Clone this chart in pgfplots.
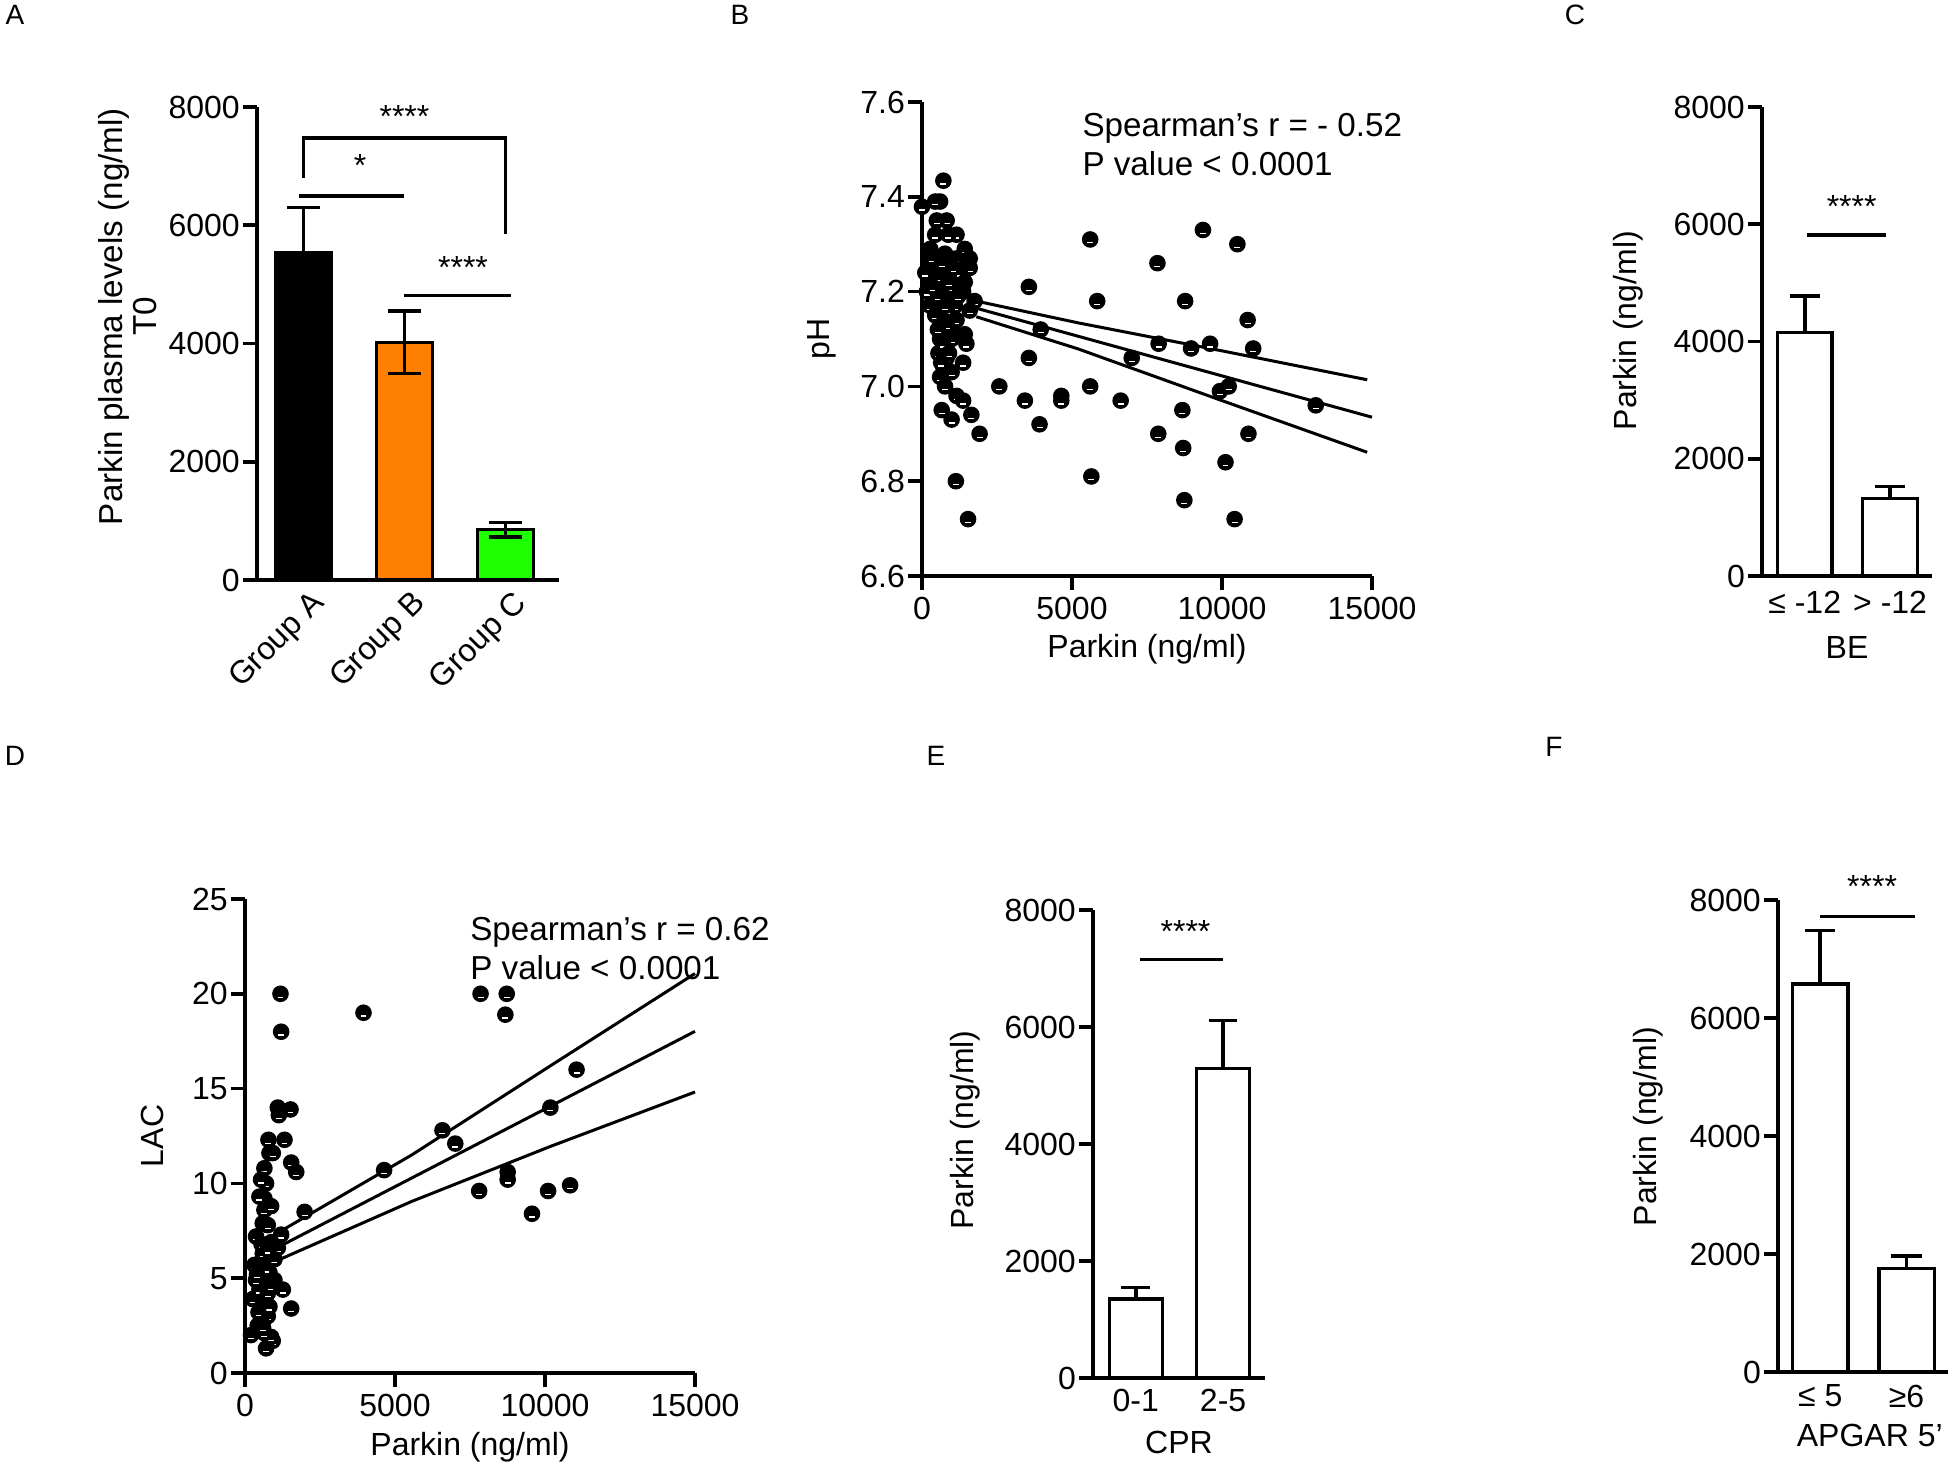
\documentclass[border=0pt]{standalone}
\usepackage{fontspec}
\setmainfont{Liberation Sans}
\usepackage{pgfplots}
\usepackage{pgfplotstable}
\pgfplotsset{compat=1.18}

\definecolor{barorange}{RGB}{255,127,0}
\definecolor{bargreen}{RGB}{30,255,0}

% GraphPad-like dot: black disc with a small white highlight
\pgfdeclareplotmark{gpdot}{%
  \pgfsetlinewidth{0.45pt}%
  \pgfsetfillcolor{black}\pgfsetstrokecolor{black}%
  \pgfpathcircle{\pgfpointorigin}{\pgfplotmarksize}%
  \pgfusepathqfillstroke
  \pgfsetstrokecolor{white}%
  \pgfsetlinewidth{0.3pt}%
  \pgfpathmoveto{\pgfpoint{-0.4\pgfplotmarksize}{-0.45\pgfplotmarksize}}%
  \pgfpathlineto{\pgfpoint{0.4\pgfplotmarksize}{-0.45\pgfplotmarksize}}%
  \pgfusepathqstroke
}

\pgfplotsset{
  gp/.style={
    scale only axis, anchor=south west, clip=false,
    axis lines=left,
    axis line style={-, line width=0.9pt},
    tick style={line width=0.9pt, black},
    tick align=outside,
    major tick length=3.5pt,
    ticklabel style={font=\fontsize{8}{9.6}\selectfont},
    yticklabel style={inner sep=0.6pt},
    xticklabel style={inner sep=1.5pt},
    label style={font=\fontsize{8}{9.6}\selectfont},
    scaled x ticks=false, scaled y ticks=false,
    /pgf/number format/assume math mode=true,
    /pgf/number format/1000 sep={},
  },
  gpbar/.style={
    gp, ymin=0, ymax=8000, ytick={0,2000,...,8000},
    xtick={0,1,2}, xtick style={draw=none},
  },
  sig/.style={black, line width=0.9pt, no marks},
  reg/.style={black, line width=0.75pt, no marks},
}

\pgfplotstableread{
x y
713 7.434
0 7.379
603 7.39
439 7.39
822 7.35
1151 7.32
493 7.35
439 7.32
1425 7.29
1590 7.27
1590 7.25
274 7.29
219 7.26
768 7.28
1151 7.27
1261 7.24
822 7.24
384 7.24
219 7.22
603 7.21
987 7.21
1425 7.22
1371 7.20
1754 7.18
1590 7.16
384 7.19
713 7.19
1096 7.17
274 7.17
439 7.15
1151 7.14
658 7.13
603 7.10
1425 7.11
1480 7.09
1096 7.11
548 7.07
822 7.06
1371 7.05
713 7.04
987 7.03
603 7.02
768 7.00
1151 6.98
1371 6.97
658 6.95
987 6.93
1645 6.94
1919 6.90
2577 7.00
1129 6.80
1535 6.72
987 7.10
822 7.13
164 7.20
110 7.24
932 7.26
822 7.16
548 7.19
877 7.32
330 7.27
500 7.23
660 7.26
900 7.22
1050 7.25
350 7.21
780 7.17
1200 7.19
530 7.12
700 7.09
900 7.07
640 7.05
3562 7.21
5606 7.31
5840 7.18
7848 7.26
9365 7.33
10513 7.30
8772 7.18
10855 7.14
3957 7.12
7888 7.09
8970 7.08
9603 7.09
11040 7.08
3562 7.06
6991 7.06
5606 7.00
3430 6.97
4643 6.98
4643 6.97
6622 6.97
9932 6.99
10223 7.00
13125 6.96
3918 6.92
7875 6.90
8679 6.95
10882 6.90
8706 6.87
10117 6.84
5645 6.81
8745 6.76
10420 6.72
}\phdata

\pgfplotstableread{
x y
1183 20.0
1205 18.0
3950 19.0
1094 14.0
1127 13.6
1518 13.9
781 12.3
1317 12.3
815 11.6
1540 11.1
1708 10.6
647 10.8
703 10.0
647 9.2
647 8.6
1987 8.5
592 7.9
368 7.2
1205 7.3
1094 6.6
871 6.9
647 6.0
313 5.7
815 5.3
647 4.8
1261 4.4
1540 3.4
257 3.9
592 3.8
759 3.0
424 2.5
201 2.0
926 1.7
703 1.3
871 1.9
536 3.4
480 4.4
759 4.2
592 6.3
759 7.8
871 8.8
647 2.1
536 2.8
368 4.9
982 6.0
480 9.3
536 10.2
926 11.6
982 4.9
815 3.5
700 5.5
550 6.8
450 3.2
600 2.4
750 6.5
400 5.2
850 4.6
7852 20.0
8725 20.0
8679 18.9
11052 16.0
6582 12.8
7010 12.1
4638 10.7
10179 14.0
8756 10.6
8756 10.2
7806 9.6
10103 9.6
10837 9.9
9567 8.4
}\lacdata

\begin{document}
\begin{tikzpicture}
\path[use as bounding box] (0,0) rectangle (488pt,-366.5pt);

% panel letters
\begin{scope}[every node/.style={font=\fontsize{7}{8}\selectfont}]
\node at (3.75pt,-3.75pt) {A};
\node at (185pt,-3.75pt) {B};
\node at (393.75pt,-3.75pt) {C};
\node at (3.75pt,-189pt) {D};
\node at (234pt,-189pt) {E};
\node at (388.5pt,-186.75pt) {F};
\end{scope}

% ---------- A ----------
\begin{axis}[gpbar, at={(64.25pt,-145pt)}, width=75.5pt, height=118.25pt,
  xmin=-0.46, xmax=2.53,
  xticklabels={Group A, Group B, Group C},
  xticklabel style={rotate=45, anchor=east, xshift=3.7pt, yshift=-3.8pt},
  ylabel={Parkin plasma levels (ng/ml)\\T0},
  ylabel style={align=center, font=\fontsize{8.3}{7.3}\selectfont,
    at={(axis description cs:0,0.557)}, anchor=center, yshift=32.4pt},
]
\addplot[ybar, bar width=0.555, fill=black, draw=black, line width=0.8pt,
  error bars/.cd, y dir=both, y explicit,
  error bar style={line width=0.9pt, black},
  error mark options={rotate=90, mark size=4.1pt, line width=0.9pt, black}]
  coordinates {(0,5540) +- (0,760)};
\addplot[ybar, bar width=0.555, fill=barorange, draw=black, line width=0.8pt,
  error bars/.cd, y dir=both, y explicit,
  error bar style={line width=0.9pt, black},
  error mark options={rotate=90, mark size=4.1pt, line width=0.9pt, black}]
  coordinates {(1,4020) +- (0,530)};
\addplot[ybar, bar width=0.555, fill=bargreen, draw=black, line width=0.8pt,
  error bars/.cd, y dir=both, y explicit,
  error bar style={line width=0.9pt, black},
  error mark options={rotate=90, mark size=4.1pt, line width=0.9pt, black}]
  coordinates {(2,850) +- (0,125)};
\addplot[sig] coordinates {(0,6792) (0,7472) (2,7472) (2,5849)};
\addplot[sig] coordinates {(-0.045,6491) (1,6491)};
\addplot[sig] coordinates {(1,4815) (2.05,4815)};
\node[font=\fontsize{8}{9.6}\selectfont] at (axis cs:1,7834) {****};
\node[font=\fontsize{8}{9.6}\selectfont] at (axis cs:0.56,7019) {*};
\node[font=\fontsize{8}{9.6}\selectfont] at (axis cs:1.58,5283) {****};
\end{axis}

% ---------- B ----------
\begin{axis}[gp, at={(230.5pt,-144pt)}, width=112.5pt, height=118.5pt,
  xmin=0, xmax=15000, ymin=6.6, ymax=7.6,
  xtick={0,5000,10000,15000},
  ytick={6.6,6.8,7.0,7.2,7.4,7.6},
  yticklabel style={/pgf/number format/.cd, fixed, precision=1, fixed zerofill},
  xlabel={Parkin (ng/ml)},
  xlabel style={at={(axis description cs:0.5,0)}, anchor=center, yshift=-18.25pt},
  ylabel={pH},
  ylabel style={at={(axis description cs:0,0.5)}, anchor=center, yshift=25pt},
]
\addplot[only marks, mark=gpdot, mark size=1.85pt] table {\phdata};
\addplot[reg] coordinates {(1809,7.165) (15000,6.935)};
\addplot[reg] coordinates {(1809,7.18) (5208,7.134) (10000,7.075) (14840,7.014)};
\addplot[reg] coordinates {(1809,7.147) (5208,7.079) (10000,6.97) (14840,6.861)};
\node[anchor=west, align=left, font=\fontsize{8.3}{9.8}\selectfont] at (axis cs:4880,7.51)
  {Spearman’s r = - 0.52\\P value < 0.0001};
\end{axis}

% ---------- C ----------
\begin{axis}[gpbar, at={(440.5pt,-144pt)}, width=42.5pt, height=117.25pt,
  xmin=-0.5, xmax=1.49, xtick={0,1},
  xticklabels={≤ -12, > -12},
  xticklabel style={yshift=1.5pt},
  xlabel={BE},
  xlabel style={at={(axis description cs:0.5,0)}, anchor=center, yshift=-17.75pt},
  ylabel={Parkin (ng/ml)},
  ylabel style={at={(axis description cs:0,0.523)}, anchor=center, yshift=33.5pt},
]
\addplot[ybar, bar width=0.64, fill=white, draw=black, line width=0.8pt,
  error bars/.cd, y dir=plus, y explicit,
  error bar style={line width=0.9pt, black},
  error mark options={rotate=90, mark size=3.8pt, line width=0.9pt, black}]
  coordinates {(0,4150) +- (0,630) (1,1325) +- (0,200)};
\addplot[sig] coordinates {(0.03,5815) (0.95,5815)};
\node[font=\fontsize{8}{9.6}\selectfont] at (axis cs:0.55,6300) {****};
\end{axis}

% ---------- D ----------
\begin{axis}[gp, at={(61.25pt,-343.25pt)}, width=112.5pt, height=118.5pt,
  xmin=0, xmax=15000, ymin=0, ymax=25,
  xtick={0,5000,10000,15000},
  ytick={0,5,...,25},
  xlabel={Parkin (ng/ml)},
  xlabel style={at={(axis description cs:0.5,0)}, anchor=center, yshift=-18.5pt},
  ylabel={LAC},
  ylabel style={at={(axis description cs:0,0.5)}, anchor=center, yshift=23.25pt},
]
\addplot[only marks, mark=gpdot, mark size=1.85pt] table {\lacdata};
\addplot[reg] coordinates {(1000,6.55) (15000,18.02)};
\addplot[reg] coordinates {(1100,7.4) (5558,11.5) (10179,16.2) (15000,21.07)};
\addplot[reg] coordinates {(1100,5.95) (5558,9.05) (10179,11.95) (15000,14.82)};
\node[anchor=west, align=left, font=\fontsize{8.3}{9.8}\selectfont] at (axis cs:7040,22.4)
  {Spearman’s r = 0.62\\P value < 0.0001};
\end{axis}

% ---------- E ----------
\begin{axis}[gpbar, at={(273.25pt,-344.5pt)}, width=43pt, height=117pt,
  xmin=-0.49, xmax=1.48, xtick={0,1},
  xticklabels={0-1, 2-5},
  xticklabel style={yshift=2.3pt},
  xlabel={CPR},
  xlabel style={at={(axis description cs:0.5,0)}, anchor=center, yshift=-16pt},
  ylabel={Parkin (ng/ml)},
  ylabel style={at={(axis description cs:0,0.53)}, anchor=center, yshift=32pt},
]
\addplot[ybar, bar width=0.61, fill=white, draw=black, line width=0.8pt,
  error bars/.cd, y dir=plus, y explicit,
  error bar style={line width=0.9pt, black},
  error mark options={rotate=90, mark size=3.6pt, line width=0.9pt, black}]
  coordinates {(0,1350) +- (0,197) (1,5286) +- (0,823)};
\addplot[sig] coordinates {(0.05,7156) (1,7156)};
\node[font=\fontsize{8}{9.6}\selectfont] at (axis cs:0.57,7640) {****};
\end{axis}

% ---------- F ----------
\begin{axis}[gpbar, at={(444.5pt,-343pt)}, width=42.5pt, height=118pt,
  xmin=-0.49, xmax=1.48, xtick={0,1},
  xticklabels={≤ 5, ≥6},
  xticklabel style={yshift=2pt},
  xlabel={APGAR 5’},
  xlabel style={at={(axis description cs:0.54,0)}, anchor=center, yshift=-15.75pt},
  ylabel={Parkin (ng/ml)},
  ylabel style={at={(axis description cs:0,0.52)}, anchor=center, yshift=32.5pt},
]
\addplot[ybar, bar width=0.64, fill=white, draw=black, line width=0.8pt,
  error bars/.cd, y dir=plus, y explicit,
  error bar style={line width=0.9pt, black},
  error mark options={rotate=90, mark size=3.8pt, line width=0.9pt, black}]
  coordinates {(0,6578) +- (0,907) (1,1748) +- (0,217)};
\addplot[sig] coordinates {(0,7722) (1.1,7722)};
\node[font=\fontsize{8}{9.6}\selectfont] at (axis cs:0.6,8230) {****};
\end{axis}
\end{tikzpicture}
\end{document}
